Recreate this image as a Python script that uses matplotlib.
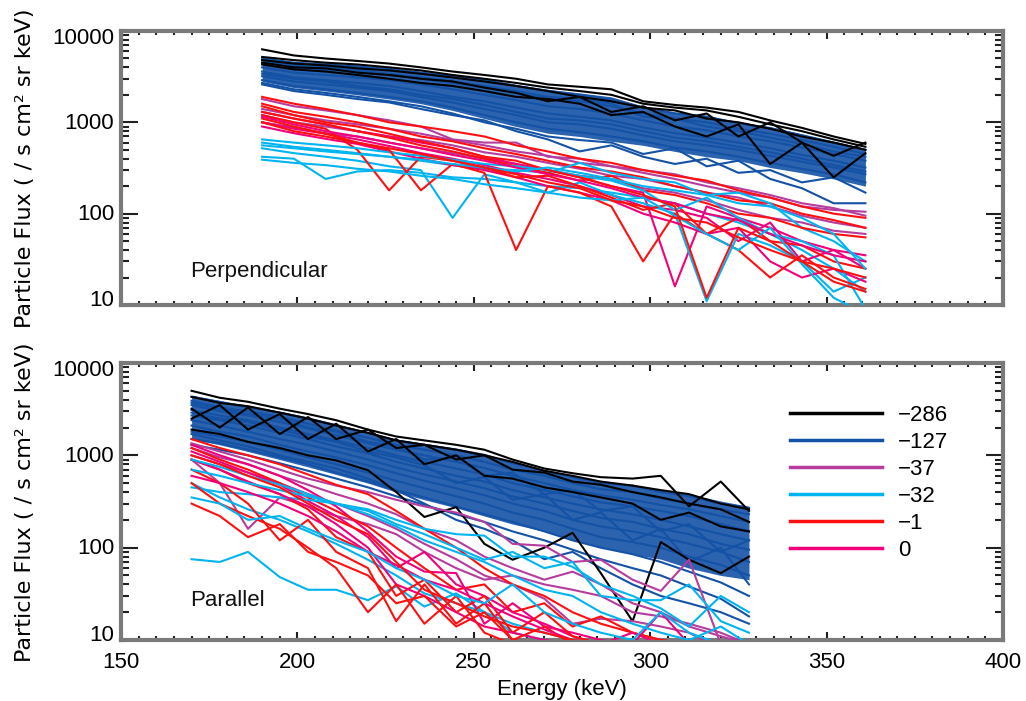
import matplotlib
matplotlib.use("Agg")
import matplotlib.pyplot as plt
import matplotlib.transforms as mtransforms
from matplotlib.lines import Line2D
from matplotlib.ticker import MultipleLocator, LogLocator, NullFormatter

plt.rcParams['font.family'] = ['Liberation Sans', 'DejaVu Sans']

# ---------------- data ----------------
energy_top = [190, 199, 208, 217, 226, 235, 244, 253, 262, 271,
              280, 289, 298, 307, 316, 325, 334, 343, 352, 361]
energy_bot = [170, 178, 186, 195, 203, 211, 220, 228, 236, 245,
              253, 261, 270, 278, 286, 295, 303, 311, 320, 328]

legend_labels = ["\u2212286", "\u2212127", "\u221237", "\u221232", "\u22121", "0"]
group_colors = ["#000000", "#1452A6", "#B63C9E", "#00B4F0", "#FF1010", "#F2007C"]

# --- Perpendicular panel ---
top_black = [
    [6300, 5400, 5000, 4700, 4400, 4000, 3600, 3300, 3000, 2600, 2450, 2300, 1700, 1550, 1450, 1300, 1050, 870, 700, 580],
    [5200, 4800, 4500, 4300, 4000, 3700, 3300, 3000, 2700, 2400, 2200, 2000, 1600, 1450, 1350, 1150, 950, 800, 650, 540],
    [4800, 4400, 4200, 3900, 3700, 3400, 3100, 2800, 2500, 2200, 1900, 1700, 1450, 1350, 1100, 1000, 850, 700, 600, 500],
    [4500, 4000, 3900, 3500, 3300, 3000, 2800, 2400, 2100, 1700, 1900, 1300, 1500, 1050, 1250, 700, 1000, 600, 430, 600],
    [4300, 3800, 3600, 3300, 3000, 2700, 2500, 2200, 1900, 1800, 1600, 1200, 1300, 900, 700, 950, 350, 600, 250, 460],
]
top_blue_upper = [5200, 4600, 4400, 4200, 4000, 3600, 3300, 3000, 2600, 2300, 2100, 1900, 1500, 1300, 1200, 1000, 900, 750, 620, 520]
top_blue_lower = [2800, 2400, 2200, 2000, 1800, 1600, 1350, 1100, 900, 760, 700, 620, 560, 480, 420, 380, 320, 280, 240, 200]
top_blue = [
    [5000, 4500, 4300, 4100, 3800, 3500, 3200, 2900, 2500, 2200, 2000, 1800, 1450, 1250, 1150, 980, 860, 720, 600, 500],
    [4500, 4000, 3800, 3600, 3300, 3000, 2700, 2400, 2100, 1850, 1700, 1500, 1250, 1100, 1000, 850, 750, 640, 540, 450],
    [4000, 3500, 3300, 3100, 2900, 2600, 2300, 2000, 1750, 1500, 1400, 1250, 1050, 900, 820, 700, 620, 530, 450, 380],
    [3600, 3100, 2900, 2700, 2500, 2200, 1900, 1700, 1450, 1250, 1150, 1050, 880, 760, 680, 600, 520, 440, 380, 320],
    [3200, 2800, 2600, 2400, 2200, 1900, 1650, 1400, 1200, 1000, 950, 850, 720, 620, 560, 500, 430, 370, 320, 270],
    [2900, 2500, 2300, 2100, 1900, 1700, 1450, 1200, 1000, 850, 780, 700, 620, 530, 480, 420, 360, 310, 270, 220],
    [4800, 4200, 4000, 3700, 3400, 3100, 2800, 2500, 2200, 1900, 1800, 1600, 1150, 1100, 900, 800, 680, 580, 480, 420],
    [3400, 3000, 2800, 2500, 2300, 2000, 1800, 1550, 1300, 1100, 1050, 950, 800, 680, 620, 540, 470, 400, 340, 290],
    [2700, 2300, 2100, 1900, 1700, 1500, 1250, 1000, 850, 700, 640, 600, 450, 520, 330, 380, 240, 190, 130, 130],
    [2600, 2200, 2000, 1800, 1650, 1400, 1200, 1050, 800, 650, 480, 560, 420, 350, 400, 280, 300, 220, 250, 170],
]
top_magenta = [
    [1800, 1500, 1350, 1200, 1050, 900, 650, 600, 600, 420, 400, 330, 280, 240, 200, 170, 150, 120, 110, 105],
    [1400, 1200, 1050, 950, 850, 750, 640, 560, 480, 430, 360, 330, 300, 270, 220, 190, 160, 130, 115, 95],
    [1200, 1000, 900, 800, 700, 640, 560, 470, 420, 360, 310, 260, 240, 200, 170, 150, 120, 95, 80, 70],
    [1000, 880, 760, 700, 600, 520, 460, 400, 350, 300, 260, 240, 190, 170, 140, 110, 90, 80, 65, 60],
]
top_cyan = [
    [420, 400, 240, 290, 300, 280, 250, 240, 220, 200, 190, 170, 150, 130, 100, 80, 60, 40, 25, 14],
    [600, 540, 500, 460, 420, 380, 340, 310, 300, 280, 360, 280, 240, 220, 160, 170, 130, 70, 50, 30],
    [520, 460, 420, 380, 330, 300, 90, 270, 220, 170, 220, 160, 130, 100, 11, 60, 45, 30, 14, 20],
    [650, 600, 560, 520, 470, 430, 390, 350, 330, 300, 260, 230, 180, 110, 150, 90, 60, 50, 35, 9],
    [390, 360, 340, 310, 290, 260, 240, 210, 190, 170, 150, 140, 150, 95, 60, 40, 70, 28, 12, 8],
    [560, 520, 480, 450, 420, 390, 350, 320, 290, 320, 280, 240, 200, 180, 160, 130, 120, 90, 60, 25],
]
top_red = [
    [1900, 1600, 1400, 1200, 1000, 900, 800, 700, 560, 480, 400, 360, 300, 260, 230, 180, 150, 120, 100, 90],
    [1600, 1300, 1150, 1000, 850, 700, 620, 520, 450, 380, 320, 290, 250, 200, 170, 140, 130, 100, 85, 70],
    [1300, 1100, 950, 800, 680, 560, 480, 400, 330, 280, 230, 260, 180, 160, 130, 100, 90, 70, 60, 55],
    [1200, 1000, 850, 500, 180, 420, 380, 320, 250, 260, 200, 150, 110, 130, 60, 90, 50, 45, 30, 25],
    [1100, 900, 750, 600, 500, 180, 350, 280, 40, 200, 170, 120, 30, 100, 60, 40, 20, 35, 20, 15],
    [1500, 1200, 1000, 900, 750, 620, 520, 420, 380, 300, 250, 200, 160, 120, 12, 70, 50, 30, 25, 20],
    [1000, 800, 700, 600, 520, 450, 380, 320, 270, 220, 190, 140, 120, 90, 80, 55, 40, 30, 18, 14],
]
top_pink = [
    [1300, 1100, 950, 800, 700, 600, 520, 420, 350, 300, 250, 200, 170, 16, 120, 90, 70, 50, 40, 35],
    [1000, 850, 750, 650, 550, 460, 400, 340, 280, 240, 200, 160, 120, 110, 90, 50, 80, 30, 40, 25],
    [900, 760, 660, 580, 480, 400, 340, 300, 250, 200, 170, 140, 100, 80, 60, 70, 30, 20, 25, 18],
    [1150, 950, 800, 700, 600, 520, 440, 380, 320, 270, 230, 190, 150, 130, 100, 85, 60, 45, 35, 30],
]

# --- Parallel panel ---
bot_black = [
    [5000, 4200, 3800, 3200, 2800, 2400, 1900, 1600, 1450, 1300, 1150, 900, 720, 640, 580, 560, 600, 280, 520, 250],
    [4300, 3700, 3400, 2900, 2500, 2100, 1750, 1450, 1300, 1150, 1000, 850, 680, 600, 520, 470, 420, 380, 300, 260],
    [3200, 2000, 3300, 1700, 2600, 1500, 1900, 1200, 1300, 900, 1000, 700, 650, 520, 480, 400, 350, 300, 260, 190],
    [2500, 3500, 1900, 2800, 1500, 2200, 1100, 1500, 800, 1000, 600, 560, 450, 400, 350, 300, 200, 240, 170, 150],
    [1900, 1700, 1400, 1200, 1000, 880, 690, 400, 215, 275, 110, 74, 100, 145, 53, 16, 115, 74, 53, 80],
]
bot_blue_upper = [4500, 3900, 3500, 3000, 2600, 2200, 1800, 1500, 1350, 1200, 1050, 850, 700, 600, 520, 480, 420, 380, 320, 280]
bot_blue_lower = [1500, 1300, 1100, 900, 750, 620, 500, 400, 330, 270, 220, 180, 150, 120, 100, 85, 75, 60, 50, 45]
bot_blue = [
    [4300, 3800, 3300, 2900, 2500, 2100, 1750, 1450, 1300, 1150, 1000, 820, 680, 580, 500, 470, 400, 360, 300, 270],
    [3900, 3300, 3000, 2600, 2200, 1850, 1550, 1300, 1150, 1000, 850, 700, 600, 500, 430, 400, 340, 300, 260, 230],
    [3500, 3000, 2700, 2300, 1950, 1650, 1350, 1150, 1000, 850, 730, 600, 500, 420, 370, 330, 290, 260, 220, 190],
    [3100, 2700, 2400, 2000, 1700, 1450, 1200, 1000, 850, 720, 620, 500, 420, 360, 310, 280, 250, 220, 180, 150],
    [2700, 2400, 2100, 1750, 1500, 1250, 1050, 850, 720, 600, 520, 420, 350, 300, 260, 230, 200, 170, 140, 120],
    [2400, 2100, 1800, 1500, 1300, 1100, 900, 740, 620, 520, 440, 360, 300, 250, 210, 190, 160, 140, 110, 95],
    [2100, 1800, 1600, 1300, 1100, 950, 780, 640, 530, 440, 370, 300, 250, 200, 170, 150, 130, 110, 90, 70],
    [1800, 1600, 1400, 1150, 950, 800, 650, 530, 440, 360, 300, 240, 200, 160, 130, 115, 100, 80, 65, 50],
    [1500, 1350, 1150, 950, 800, 650, 520, 420, 350, 280, 230, 190, 150, 120, 100, 85, 70, 55, 42, 30],
    [1300, 1150, 1000, 820, 680, 560, 450, 360, 290, 230, 190, 150, 120, 95, 75, 60, 50, 38, 28, 18],
    [3700, 3200, 2800, 2500, 2000, 1800, 1400, 1250, 900, 950, 600, 650, 380, 420, 250, 280, 150, 180, 90, 120],
    [2900, 2500, 2300, 1900, 1600, 1400, 1100, 950, 780, 500, 580, 330, 380, 200, 240, 120, 160, 70, 100, 40],
    [1700, 1450, 1250, 1000, 850, 720, 560, 420, 300, 200, 160, 120, 75, 90, 60, 40, 30, 25, 20, 15],
]
bot_magenta = [
    [1350, 1100, 900, 700, 560, 470, 400, 330, 280, 240, 190, 110, 105, 70, 74, 45, 34, 74, 9, 8],
    [900, 500, 160, 350, 280, 220, 180, 140, 90, 60, 45, 50, 40, 35, 30, 20, 18, 15, 12, 9],
    [1200, 950, 800, 600, 480, 380, 300, 230, 160, 120, 80, 60, 45, 55, 40, 25, 20, 14, 11, 9],
    [1000, 800, 650, 500, 380, 300, 220, 160, 110, 75, 50, 40, 28, 15, 17, 16, 14, 12, 8, 8],
]
bot_cyan = [
    [75, 70, 90, 48, 35, 35, 27, 38, 23, 32, 20, 12, 10, 8, 8, 8, 8, 8, 8, 8],
    [500, 350, 260, 200, 150, 110, 74, 50, 32, 25, 20, 15, 12, 10, 9, 8, 8, 8, 8, 8],
    [450, 400, 380, 350, 330, 300, 260, 200, 160, 140, 135, 80, 80, 62, 40, 30, 22, 14, 30, 20],
    [700, 600, 500, 420, 360, 300, 250, 180, 140, 100, 74, 90, 60, 70, 30, 27, 27, 40, 16, 12],
    [350, 300, 200, 220, 160, 120, 90, 60, 45, 30, 25, 40, 20, 15, 12, 10, 20, 12, 9, 8],
    [900, 750, 600, 480, 380, 300, 230, 170, 120, 90, 70, 50, 35, 30, 20, 15, 12, 10, 14, 9],
]
bot_red = [
    [1500, 1200, 1000, 800, 620, 480, 380, 250, 160, 100, 60, 40, 30, 20, 15, 12, 10, 9, 8, 8],
    [1200, 900, 700, 500, 350, 250, 170, 100, 60, 35, 40, 20, 25, 14, 18, 12, 10, 9, 8, 8],
    [900, 700, 500, 380, 260, 130, 90, 30, 45, 20, 30, 12, 20, 11, 9, 8, 8, 8, 8, 8],
    [700, 500, 300, 120, 200, 90, 60, 16, 40, 15, 25, 10, 14, 9, 8, 8, 8, 8, 8, 8],
    [500, 300, 220, 160, 100, 60, 20, 40, 15, 30, 12, 9, 8, 8, 8, 8, 8, 8, 8, 8],
    [300, 220, 130, 180, 90, 70, 50, 25, 30, 14, 20, 10, 9, 8, 8, 8, 8, 8, 8, 8],
    [1000, 800, 600, 450, 300, 200, 140, 70, 35, 25, 18, 14, 12, 10, 9, 8, 8, 8, 8, 8],
]
bot_pink = [
    [1300, 1000, 800, 600, 420, 280, 150, 80, 55, 53, 15, 25, 14, 12, 10, 9, 20, 9, 8, 8],
    [1100, 850, 650, 480, 320, 220, 130, 60, 90, 40, 30, 20, 15, 11, 9, 8, 8, 8, 8, 8],
    [900, 700, 520, 380, 280, 180, 100, 40, 30, 20, 14, 12, 10, 9, 8, 8, 8, 8, 8, 8],
    [600, 500, 400, 300, 220, 150, 90, 65, 45, 35, 25, 18, 13, 10, 9, 12, 9, 8, 8, 8],
]

# ---------------- figure ----------------
W, H = 1026, 701
fig = plt.figure(figsize=(W / 100, H / 100), dpi=100)
ax1 = fig.add_axes([121 / W, 1 - 305 / H, 882 / W, 274 / H])
ax2 = fig.add_axes([121 / W, 1 - 640 / H, 882 / W, 277 / H])

LW = 1.5
FS = 16


def draw_panel(ax, e, black, bup, blow, blue, magenta, cyan, red, pink):
    black_c, blue_c, mag_c, cyan_c, red_c, pink_c = group_colors
    ax.fill_between(e, blow, bup, color=blue_c, lw=0, alpha=0.9, zorder=1)
    for s in blue:
        ax.plot(e, s, color=blue_c, lw=LW, zorder=2)
    for s in black:
        ax.plot(e, s, color=black_c, lw=LW, zorder=3)
    for s in magenta:
        ax.plot(e, s, color=mag_c, lw=LW, zorder=4)
    n = max(len(cyan), len(red), len(pink))
    for i in range(n):
        if i < len(red):
            ax.plot(e, red[i], color=red_c, lw=LW, zorder=5)
        if i < len(cyan):
            ax.plot(e, cyan[i], color=cyan_c, lw=LW, zorder=5)
        if i < len(pink):
            ax.plot(e, pink[i], color=pink_c, lw=LW, zorder=5)


draw_panel(ax1, energy_top, top_black, top_blue_upper, top_blue_lower, top_blue,
           top_magenta, top_cyan, top_red, top_pink)
draw_panel(ax2, energy_bot, bot_black, bot_blue_upper, bot_blue_lower, bot_blue,
           bot_magenta, bot_cyan, bot_red, bot_pink)

ytick_vals = [10, 100, 1000, 10000]
ytick_text = ["10", "100", "1000", "10000"]
ytick_shift = [7, 2, 1, -5]   # pixel nudges (IDL keeps labels inside the frame)

for ax in (ax1, ax2):
    ax.set_yscale('log')
    ax.set_xlim(150, 400)
    ax.set_ylim(10, 10000)
    ax.set_yticks(ytick_vals)
    ax.set_yticklabels(ytick_text)
    ax.yaxis.set_minor_locator(LogLocator(base=10, subs=range(2, 10)))
    ax.yaxis.set_minor_formatter(NullFormatter())
    ax.xaxis.set_major_locator(MultipleLocator(50))
    ax.xaxis.set_minor_locator(MultipleLocator(5))
    ax.tick_params(which='both', direction='in', top=True, right=True,
                   labelsize=FS, color='#202020')
    ax.tick_params(axis='y', which='major', length=12, width=1.5, pad=5)
    ax.tick_params(axis='y', which='minor', length=6, width=1.5)
    ax.tick_params(axis='x', which='major', length=6, width=1.5, pad=9)
    ax.tick_params(axis='x', which='minor', length=3, width=1.5)
    for sp in ax.spines.values():
        sp.set_color('#7a7a7a')
        sp.set_linewidth(3)
    for lab, dy in zip(ax.get_yticklabels(), ytick_shift):
        off = mtransforms.ScaledTranslation(0, dy / 100, fig.dpi_scale_trans)
        lab.set_transform(lab.get_transform() + off)

ax1.set_xticklabels([])

ax1.text(169.5, 23, "Perpendicular", fontsize=FS, color='#111111', va='center')
ax2.text(169.5, 27, "Parallel", fontsize=FS, color='#111111', va='center')

ax2.set_xlabel("Energy (keV)", fontsize=FS, labelpad=4)
ylab = "Particle Flux ( / s cm\u00b2 sr keV)"
fig.text(25 / W, 1 - 168 / H, ylab, rotation=90, fontsize=FS, ha='center', va='center',
         family=['DejaVu Sans'])
fig.text(25 / W, 1 - 502 / H, ylab, rotation=90, fontsize=FS, ha='center', va='center',
         family=['DejaVu Sans'])

handles = [Line2D([], [], color=c, lw=2.5) for c in group_colors]
ax2.legend(handles, legend_labels, loc='upper left', bbox_to_anchor=(0.736, 0.92),
           frameon=False, fontsize=FS, handlelength=4.14, handletextpad=0.72,
           labelspacing=0.27)

fig.savefig("out.png", dpi=100)
